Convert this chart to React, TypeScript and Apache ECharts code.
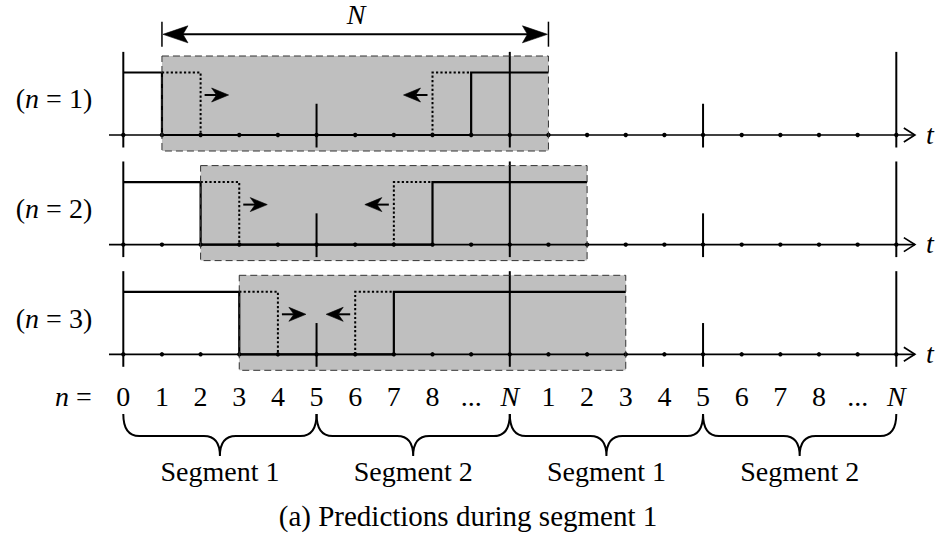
import { useEffect, useRef } from "react";
import * as echarts from "echarts";

// ---------------- data ----------------
const ROW_NUMBERS = [1, 2, 3];
const WINDOW_START = [1, 2, 3];
const WINDOW_END = [11, 12, 13];
const FALL_AT = [1, 2, 3];
const RISE_AT = [9, 8, 7];
const PRED_FALL = [2, 3, 4];
const PRED_RISE = [8, 7, 6];
const SIGNAL_HIGH = 1;
const SIGNAL_LOW = 0;
const TICK_LABELS = ["0", "1", "2", "3", "4", "5", "6", "7", "8", "...", "N", "1", "2", "3", "4", "5", "6", "7", "8", "...", "N"];
const FULL_MARKS = [0, 10, 20];
const HALF_MARKS = [5, 15];
const SEGMENT_BOUNDS = [0, 5, 10, 15, 20];
const SEGMENT_LABELS = ["Segment 1", "Segment 2", "Segment 1", "Segment 2"];
const CAPTION = "(a) Predictions during segment 1";
const WINDOW_LABEL = "N";
const TIME_LABEL = "t";

// ---------------- layout / style ----------------
const PX_PER_INDEX = 38.65;
const X0_PX = 123.3;
const X_MIN = -1;
const X_MAX = 21;
const GRID_LEFT = X0_PX + X_MIN * PX_PER_INDEX;
const GRID_WIDTH = (X_MAX - X_MIN) * PX_PER_INDEX;
const ROW_AXIS_PX = [135, 244.6, 354.3];
const LEVEL_PX = 62.5;
const Y_MIN = -0.4;
const Y_MAX = 2.0;
const AXIS_FROM = -0.37;
const AXIS_TO = 20.48;
const BOX_TOP = 1.264;
const BOX_BOTTOM = -0.256;
const FULL_TOP = 1.33;
const HALF_TOP = 0.5;
const MARK_BOTTOM = -0.2;
const ARROW_Y = 0.64;
const LABEL_Y = 0.58;
const DIM_Y = 1.611;
const DIM_BAR_TOP = 1.813;
const DIM_BAR_BOTTOM = 1.413;
const DIM_LABEL_Y = 1.93;
const BOTTOM_TOP = 360;
const BOTTOM_H = 181;
const DIGIT_Y = 396;
const BRACE_TOP = 414;
const BRACE_MID = 436;
const BRACE_TIP = 456;
const SEG_LABEL_Y = 471;
const CAPTION_CENTER = 511;
const INK = "#000";
const BOX_FILL = "#bfbfbf";
const FONT = "Liberation Serif";
const FS = 28;
const CAPTION_FS = 29;

const txt = (x: number, y: number, text: string, italic = false, extra: any = {}) => ({
  type: "text",
  x,
  y,
  style: {
    text,
    fill: INK,
    fontFamily: FONT,
    fontSize: FS,
    fontStyle: italic ? "italic" : "normal",
    align: "center",
    verticalAlign: "middle",
    rich: { i: { fontFamily: FONT, fontSize: FS, fontStyle: "italic", fill: INK } },
    ...extra,
  },
});

const head = (tip: number[], dir: number, len: number, half: number, notch: number) => ({
  type: "polygon",
  shape: {
    points: [
      [tip[0], tip[1]],
      [tip[0] - dir * len, tip[1] - half],
      [tip[0] - dir * notch, tip[1]],
      [tip[0] - dir * len, tip[1] + half],
    ],
  },
  style: { fill: INK, stroke: INK, lineWidth: 0.6, lineJoin: "miter" },
});

const seg = (p: number[], q: number[], w = 2, dash?: number[]) => ({
  type: "line",
  shape: { x1: p[0], y1: p[1], x2: q[0], y2: q[1] },
  style: { stroke: INK, lineWidth: w, lineDash: dash },
});

function rowRender(r: number) {
  return (_params: any, api: any) => {
    const c = (x: number, y: number) => api.coord([x, y]);
    const ch: any[] = [];
    const ws = WINDOW_START[r];
    const we = WINDOW_END[r];
    const bl = c(ws, BOX_BOTTOM);
    const tr = c(we, BOX_TOP);
    ch.push({
      type: "rect",
      shape: { x: bl[0], y: tr[1], width: tr[0] - bl[0], height: bl[1] - tr[1] },
      style: { fill: BOX_FILL },
    });
    // time axis
    const a0 = c(AXIS_FROM, SIGNAL_LOW);
    const a1 = c(AXIS_TO, SIGNAL_LOW);
    ch.push(seg(a0, a1, 1.7));
    ch.push({
      type: "polyline",
      shape: { points: [[a1[0] - 11, a1[1] - 7], [a1[0], a1[1]], [a1[0] - 11, a1[1] + 7]] },
      style: { stroke: INK, lineWidth: 1.7, fill: "none" },
    });
    ch.push(txt(a1[0] + 15, a1[1] - 1, TIME_LABEL, true));
    FULL_MARKS.forEach((m) => ch.push(seg(c(m, FULL_TOP), c(m, MARK_BOTTOM), 2)));
    HALF_MARKS.forEach((m) => ch.push(seg(c(m, HALF_TOP), c(m, MARK_BOTTOM), 2)));
    TICK_LABELS.forEach((_, i) => {
      const p = c(i, SIGNAL_LOW);
      ch.push({ type: "circle", shape: { cx: p[0], cy: p[1], r: 2.2 }, style: { fill: INK } });
    });
    // actual signal
    const sig = [
      [0, SIGNAL_HIGH],
      [FALL_AT[r], SIGNAL_HIGH],
      [FALL_AT[r], SIGNAL_LOW],
      [RISE_AT[r], SIGNAL_LOW],
      [RISE_AT[r], SIGNAL_HIGH],
      [we, SIGNAL_HIGH],
    ].map(([x, y]) => c(x, y));
    ch.push({ type: "polyline", shape: { points: sig }, style: { stroke: INK, lineWidth: 2.2, fill: "none" } });
    // predicted transitions (dotted)
    const p1 = [[FALL_AT[r], SIGNAL_HIGH], [PRED_FALL[r], SIGNAL_HIGH], [PRED_FALL[r], SIGNAL_LOW]].map(([x, y]) => c(x, y));
    const p2 = [[PRED_RISE[r], SIGNAL_LOW], [PRED_RISE[r], SIGNAL_HIGH], [RISE_AT[r], SIGNAL_HIGH]].map(([x, y]) => c(x, y));
    [p1, p2].forEach((pts) =>
      ch.push({ type: "polyline", shape: { points: pts }, style: { stroke: INK, lineWidth: 2, lineDash: [2.2, 2.2], fill: "none" } })
    );
    // arrows moving toward each other
    const fa = c(PRED_FALL[r], ARROW_Y);
    ch.push(seg([fa[0] + 4, fa[1]], [fa[0] + 16, fa[1]], 2));
    ch.push(head([fa[0] + 28, fa[1]], 1, 17, 7, 12));
    const ra = c(PRED_RISE[r], ARROW_Y);
    ch.push(seg([ra[0] - 5, ra[1]], [ra[0] - 17, ra[1]], 2));
    ch.push(head([ra[0] - 29, ra[1]], -1, 17, 7, 12));
    // dashed window border
    ch.push({
      type: "rect",
      shape: { x: bl[0], y: tr[1], width: tr[0] - bl[0], height: bl[1] - tr[1] },
      style: { fill: "none", stroke: "#333", lineWidth: 1, lineDash: [7, 4] },
    });
    // row label
    const ly = c(0, LABEL_Y)[1];
    ch.push(txt(54, ly, `({i|n} = ${ROW_NUMBERS[r]})`));
    // window length dimension (only above first row)
    if (r === 0) {
      const d0 = c(ws, DIM_Y);
      const d1 = c(we, DIM_Y);
      ch.push(seg(c(ws, DIM_BAR_TOP), c(ws, DIM_BAR_BOTTOM), 1.5));
      ch.push(seg(c(we, DIM_BAR_TOP), c(we, DIM_BAR_BOTTOM), 1.5));
      ch.push(seg([d0[0] + 15, d0[1]], [d1[0] - 15, d1[1]], 2));
      ch.push(head([d0[0] + 1, d0[1]], -1, 25, 8.5, 20));
      ch.push(head([d1[0] - 1, d1[1]], 1, 25, 8.5, 20));
      const lp = c((ws + we) / 2, DIM_LABEL_Y);
      ch.push(txt(lp[0] + 1, lp[1], WINDOW_LABEL, true));
    }
    return { type: "group", children: ch };
  };
}

function bottomRender(_params: any, api: any) {
  const c = (x: number, y: number) => api.coord([x, y]);
  const ch: any[] = [];
  TICK_LABELS.forEach((lab, i) => {
    const p = c(i, DIGIT_Y);
    ch.push(txt(p[0], p[1], lab, lab === "N"));
  });
  ch.push(txt(73.5, c(0, DIGIT_Y)[1], "{i|n} ="));
  for (let k = 0; k < SEGMENT_LABELS.length; k++) {
    const a = c(SEGMENT_BOUNDS[k], BRACE_TOP);
    const b = c(SEGMENT_BOUNDS[k + 1], BRACE_TOP);
    const ym = c(0, BRACE_MID)[1];
    const yb = c(0, BRACE_TIP)[1];
    const xm = (a[0] + b[0]) / 2;
    const rr = 16;
    const d =
      `M${a[0]} ${a[1]} Q${a[0]} ${ym} ${a[0] + rr} ${ym} L${xm - rr} ${ym} Q${xm} ${ym} ${xm} ${yb} ` +
      `M${xm} ${yb} Q${xm} ${ym} ${xm + rr} ${ym} L${b[0] - rr} ${ym} Q${b[0]} ${ym} ${b[0]} ${b[1]}`;
    ch.push({ type: "path", shape: { pathData: d }, style: { stroke: INK, lineWidth: 2, fill: "none" } });
    ch.push(txt(xm, c(0, SEG_LABEL_Y)[1], SEGMENT_LABELS[k]));
  }
  return { type: "group", children: ch };
}

export default function App() {
  const ref = useRef<HTMLDivElement>(null);
  useEffect(() => {
    if (!ref.current) return;
    const chart = echarts.init(ref.current, null, { renderer: "svg" });
    const grids: any[] = ROW_NUMBERS.map((_, r) => ({
      left: GRID_LEFT,
      width: GRID_WIDTH,
      top: ROW_AXIS_PX[r] - Y_MAX * LEVEL_PX,
      height: (Y_MAX - Y_MIN) * LEVEL_PX,
    }));
    grids.push({ left: GRID_LEFT, width: GRID_WIDTH, top: BOTTOM_TOP, height: BOTTOM_H });
    const xAxes = grids.map((_, i) => ({ gridIndex: i, type: "value", min: X_MIN, max: X_MAX, show: false }));
    const yAxes: any[] = ROW_NUMBERS.map((_, r) => ({ gridIndex: r, type: "value", min: Y_MIN, max: Y_MAX, show: false }));
    yAxes.push({ gridIndex: 3, type: "value", min: BOTTOM_TOP, max: BOTTOM_TOP + BOTTOM_H, inverse: true, show: false });
    const series: any[] = ROW_NUMBERS.map((_, r) => ({
      type: "custom",
      coordinateSystem: "cartesian2d",
      xAxisIndex: r,
      yAxisIndex: r,
      clip: false,
      silent: true,
      data: [[WINDOW_START[r], SIGNAL_LOW]],
      renderItem: rowRender(r),
    }));
    series.push({
      type: "custom",
      coordinateSystem: "cartesian2d",
      xAxisIndex: 3,
      yAxisIndex: 3,
      clip: false,
      silent: true,
      data: [[0, DIGIT_Y]],
      renderItem: bottomRender,
    });
    chart.setOption({
      animation: false,
      backgroundColor: "#fff",
      title: {
        text: CAPTION,
        left: "center",
        top: CAPTION_CENTER - 17,
        textStyle: { fontFamily: FONT, fontSize: CAPTION_FS, fontWeight: "normal", color: INK, lineHeight: 34 },
      },
      grid: grids,
      xAxis: xAxes,
      yAxis: yAxes,
      series,
    });
    return () => chart.dispose();
  }, []);
  return <div ref={ref} style={{ position: "absolute", left: 0, top: 0, width: 936, height: 541 }} />;
}
